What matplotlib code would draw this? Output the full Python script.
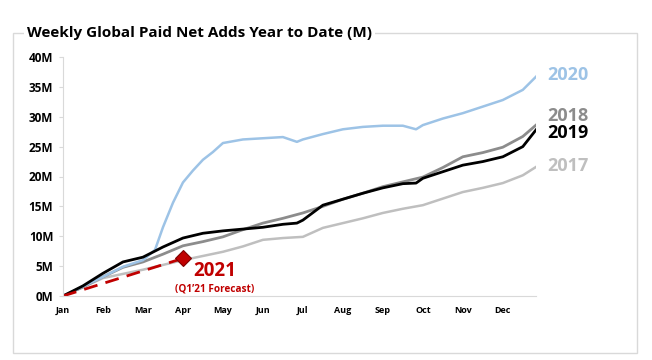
import matplotlib
matplotlib.use("Agg")
import matplotlib.pyplot as plt
from matplotlib.patches import Rectangle

# ================================ Data (millions, x in months from Jan) ================================
months = ["Jan", "Feb", "Mar", "Apr", "May", "Jun", "Jul", "Aug", "Sep", "Oct", "Nov", "Dec"]

x_2020 = [0, 0.5, 1, 1.5, 2, 2.3, 2.5, 2.75, 3, 3.25, 3.5, 3.75, 4, 4.5, 5, 5.5, 5.85, 6, 6.5, 7, 7.5, 8, 8.5, 8.83, 9, 9.5, 10, 10.5, 11, 11.5, 11.83]
y_2020 = [0, 1.6, 3.2, 4.9, 6.0, 7.7, 11.5, 15.6, 19.0, 21.0, 22.8, 24.1, 25.6, 26.2, 26.4, 26.6, 25.8, 26.2, 27.1, 27.9, 28.3, 28.5, 28.5, 27.9, 28.6, 29.7, 30.6, 31.7, 32.8, 34.5, 36.7]

x_2019 = [0, 0.5, 1, 1.5, 2, 2.5, 3, 3.5, 4, 4.5, 5, 5.5, 5.85, 6, 6.5, 7, 7.5, 8, 8.5, 8.83, 9, 9.5, 10, 10.5, 11, 11.5, 11.83]
y_2019 = [0, 1.7, 3.8, 5.7, 6.5, 8.2, 9.7, 10.5, 10.9, 11.2, 11.5, 12.0, 12.2, 12.7, 15.2, 16.2, 17.2, 18.1, 18.8, 18.9, 19.7, 20.8, 21.9, 22.5, 23.3, 25.0, 27.8]

x_2018 = [0, 0.5, 1, 1.5, 2, 2.5, 3, 3.5, 4, 4.5, 5, 5.5, 6, 6.5, 7, 7.5, 8, 8.5, 9, 9.5, 10, 10.5, 11, 11.5, 11.83]
y_2018 = [0, 1.5, 3.2, 4.8, 5.7, 7.0, 8.4, 9.1, 9.9, 11.1, 12.2, 13.0, 13.9, 15.0, 16.2, 17.2, 18.3, 19.1, 19.9, 21.5, 23.3, 24.0, 24.9, 26.7, 28.6]

x_2017 = [0, 0.5, 1, 1.5, 2, 2.5, 3, 3.5, 4, 4.5, 5, 5.5, 6, 6.5, 7, 7.5, 8, 8.5, 9, 9.5, 10, 10.5, 11, 11.5, 11.83]
y_2017 = [0, 1.5, 3.0, 3.7, 4.4, 5.2, 6.0, 6.7, 7.4, 8.3, 9.4, 9.7, 9.9, 11.4, 12.2, 13.0, 13.9, 14.6, 15.2, 16.3, 17.4, 18.1, 18.9, 20.2, 21.6]

x_2021 = [0, 3]
y_2021 = [0, 6.3]

# ================================ Plot ================================
plt.rcParams['font.family'] = ['Open Sans', 'DejaVu Sans']

fig = plt.figure(figsize=(6.52, 3.6), dpi=100)
ax = fig.add_axes([63 / 652, 1 - 296 / 360, (536 - 63) / 652, (296 - 57) / 360])

c2017, c2018, c2019, c2020, c2021 = "#BFBFBF", "#8C8C8C", "#000000", "#9DC3E6", "#C00000"

ax.plot(x_2017, y_2017, color=c2017, lw=1.8)
ax.plot(x_2018, y_2018, color=c2018, lw=2.0)
ax.plot(x_2020, y_2020, color=c2020, lw=1.8)
ax.plot(x_2019, y_2019, color=c2019, lw=2.0)
ax.plot(x_2021, y_2021, color=c2021, lw=2.0, ls=(0, (5, 3)))
ax.plot(x_2021[-1:], y_2021[-1:], marker="D", ms=8, color=c2021, mec="#7F0000", mew=0.8, ls="none")

ax.set_xlim(0, 11.83)
ax.set_ylim(0, 40)
ax.set_xticks(range(12))
ax.set_xticklabels(months, fontsize=6.5, fontweight="bold")
ax.set_yticks(range(0, 41, 5))
ax.set_yticklabels([f"{v}M" for v in range(0, 41, 5)], fontsize=8.5, fontweight="bold")
ax.tick_params(axis="x", length=0, pad=7)
ax.tick_params(axis="y", length=3, color="#D9D9D9", pad=4)
for s in ["top", "right"]:
    ax.spines[s].set_visible(False)
for s in ["left", "bottom"]:
    ax.spines[s].set_color("#D9D9D9")

# end labels (year, colour, label height)
ends = [(2020, c2020, 37.0), (2018, c2018, 30.1), (2019, c2019, 27.2), (2017, c2017, 21.8)]
for yr, col, ypos in ends:
    ax.text(12.1, ypos, str(yr), color=col, fontsize=13, fontweight="bold", va="center", clip_on=False)

ax.text(3.25, 4.2, "2021", color=c2021, fontsize=13.5, fontweight="bold", va="center")
ax.text(3.78, 1.15, "(Q1\u201921 Forecast)", color=c2021, fontsize=7.2, fontweight="bold", ha="center", va="center")

# frame and title
fig.patches.append(Rectangle((13 / 652, 1 - 353 / 360), (637 - 13) / 652, (353 - 33) / 360,
                             transform=fig.transFigure, fill=False, edgecolor="#D9D9D9", lw=1))
fig.text(27 / 652, 1 - 33 / 360, "Weekly Global Paid Net Adds Year to Date (M)", fontsize=11,
         fontweight="bold", va="center", ha="left", bbox=dict(facecolor="white", edgecolor="none", pad=2))

fig.savefig("out.png", dpi=100)
